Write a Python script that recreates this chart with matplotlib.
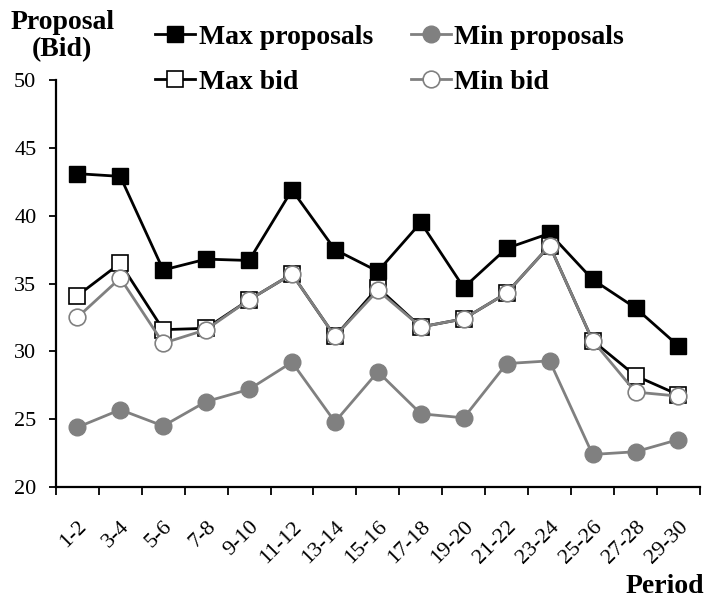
import numpy as np
import matplotlib
matplotlib.use('Agg')
import matplotlib.pyplot as plt

plt.rcParams['font.family'] = ['Liberation Serif', 'DejaVu Serif']

periods = ['1-2', '3-4', '5-6', '7-8', '9-10', '11-12', '13-14', '15-16',
           '17-18', '19-20', '21-22', '23-24', '25-26', '27-28', '29-30']

max_proposals = [43.1, 42.9, 36.0, 36.8, 36.7, 41.9, 37.5, 35.9,
                 39.5, 34.7, 37.6, 38.7, 35.3, 33.2, 30.4]
min_proposals = [24.4, 25.7, 24.5, 26.3, 27.2, 29.2, 24.8, 28.5,
                 25.4, 25.1, 29.1, 29.3, 22.4, 22.6, 23.5]
max_bid = [34.1, 36.5, 31.6, 31.7, 33.8, 35.7, 31.1, 34.7,
           31.8, 32.4, 34.3, 37.8, 30.8, 28.2, 26.8]
min_bid = [32.5, 35.4, 30.6, 31.6, 33.8, 35.7, 31.1, 34.5,
           31.8, 32.4, 34.3, 37.8, 30.8, 27.0, 26.7]

gray = '#808080'
x = np.arange(len(periods))

fig = plt.figure(figsize=(7.07, 6.02), dpi=100)
ax = fig.add_axes([0.079, 0.191, 0.911, 0.676])

ax.plot(x, max_proposals, color='black', lw=2, marker='s', ms=11,
        mfc='black', mec='black', label='Max proposals', zorder=3)
ax.plot(x, min_proposals, color=gray, lw=2, marker='o', ms=12,
        mfc=gray, mec=gray, label='Min proposals', zorder=3)
ax.plot(x, max_bid, color='black', lw=2, marker='s', ms=11,
        mfc='white', mec='black', mew=1.2, label='Max bid', zorder=4)
ax.plot(x, min_bid, color=gray, lw=2, marker='o', ms=12,
        mfc='white', mec=gray, mew=1.2, label='Min bid', zorder=5)

ax.set_xlim(-0.5, len(periods) - 0.5)
ax.set_ylim(20, 50)
ax.set_yticks([20, 25, 30, 35, 40, 45, 50])

ax.set_xticks(x)
ax.set_xticklabels(periods, rotation=45, ha='right', rotation_mode='anchor',
                   fontsize=16)
ax.set_xticks(np.arange(len(periods) + 1) - 0.5, minor=True)
ax.tick_params(axis='x', which='major', length=0, pad=22)
ax.tick_params(axis='x', which='minor', length=6, width=1.3, direction='out')
ax.tick_params(axis='y', length=5, width=1.3, direction='out', labelsize=16, pad=9)

for s in ['top', 'right']:
    ax.spines[s].set_visible(False)
for s in ['left', 'bottom']:
    ax.spines[s].set_linewidth(1.6)

fig.text(0.088, 0.984, 'Proposal\n(Bid)', ha='center', va='top',
         fontsize=20, fontweight='bold', linespacing=1.15)
fig.text(0.996, 0.005, 'Period', ha='right', va='bottom',
         fontsize=20, fontweight='bold')

handles, labels = ax.get_legend_handles_labels()
order = [0, 2, 1, 3]
fig.legend([handles[i] for i in order], [labels[i] for i in order],
           loc='upper left', bbox_to_anchor=(0.196, 0.987), ncol=2,
           frameon=False, prop={'weight': 'bold', 'size': 20},
           handlelength=1.44, handletextpad=0.12, columnspacing=1.37,
           labelspacing=0.7, borderaxespad=0.2)

fig.savefig('out.png', dpi=100)
